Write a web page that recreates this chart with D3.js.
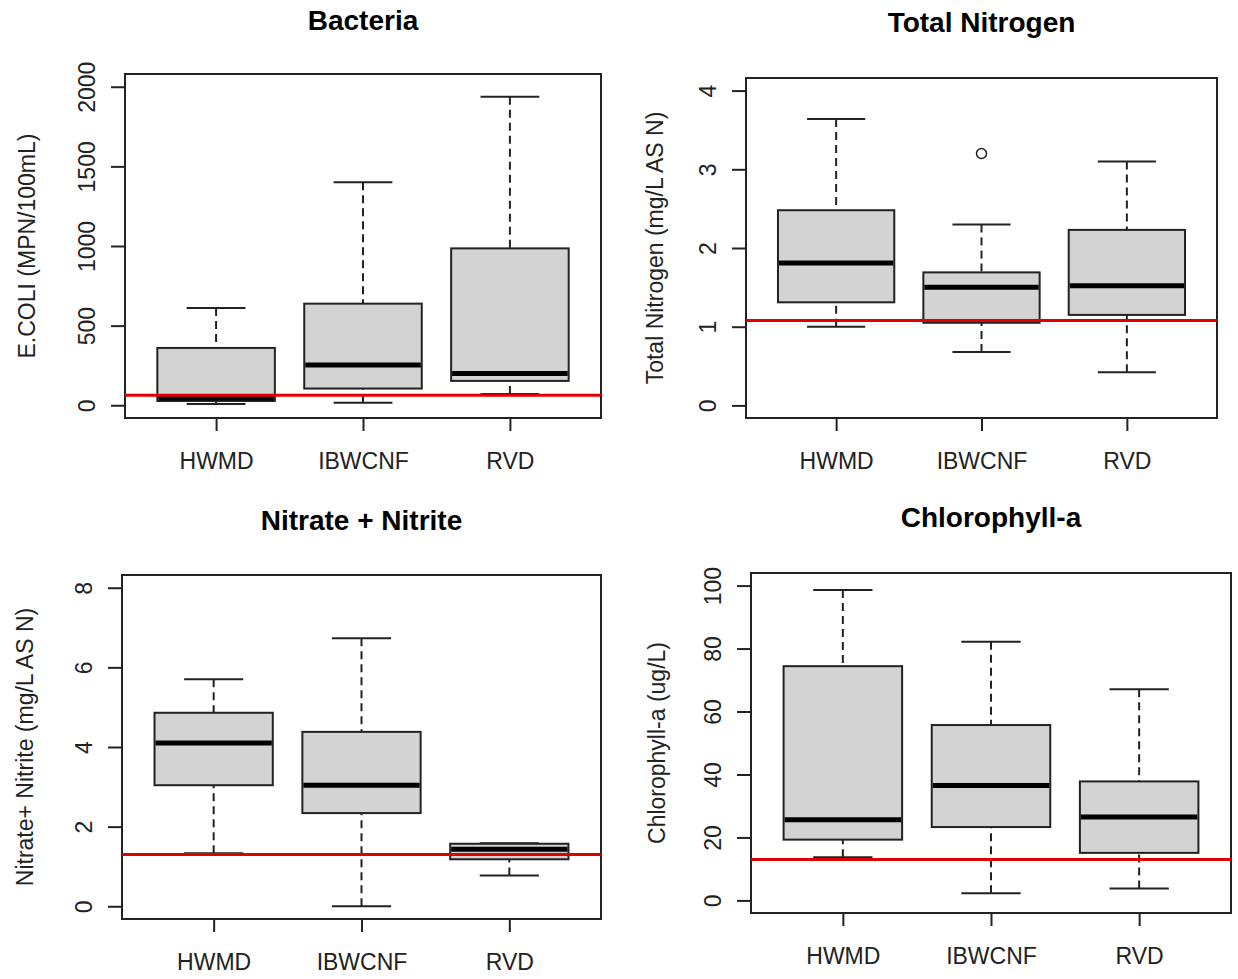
<!DOCTYPE html>
<html>
<head>
<meta charset="utf-8">
<script src="https://cdn.jsdelivr.net/npm/d3@7"></script>
<style>
  body { margin: 0; background: #fff; }
  svg text { font-family: "Liberation Sans", Arial, sans-serif; fill: #222; }
</style>
</head>
<body>
<svg id="chart" width="1238" height="979"></svg>
<script>
// sites on the x axis (same for all four panels)
var sites = ["HWMD", "IBWCNF", "RVD"];

// panel titles and y axis labels
var titles = ["Bacteria", "Total Nitrogen", "Nitrate + Nitrite", "Chlorophyll-a"];
var yLabels = ["E.COLI (MPN/100mL)", "Total Nitrogen (mg/L AS N)", "Nitrate+ Nitrite (mg/L AS N)", "Chlorophyll-a (ug/L)"];

// y limits and tick values
var yLims = [[0, 2000], [0, 4], [0, 8], [0, 100]];
var yTicks = [
  [0, 500, 1000, 1500, 2000],
  [0, 1, 2, 3, 4],
  [0, 2, 4, 6, 8],
  [0, 20, 40, 60, 80, 100]
];

// box stats per site: [lower whisker, Q1, median, Q3, upper whisker]
var bacteriaStats = [[8, 27, 45, 360, 610], [15, 105, 253, 638, 1400], [70, 153, 200, 985, 1937]];
var nitrogenStats = [[1.00, 1.31, 1.81, 2.48, 3.64], [0.68, 1.05, 1.50, 1.69, 2.30], [0.42, 1.15, 1.52, 2.23, 3.10]];
var nitrateStats  = [[1.33, 3.04, 4.10, 4.86, 5.70], [0.00, 2.34, 3.04, 4.38, 6.73], [0.77, 1.18, 1.43, 1.57, 1.58]];
var chlorophyllStats = [[13.7, 19.3, 25.6, 74.4, 98.6], [2.3, 23.3, 36.5, 55.7, 82.2], [3.8, 15.1, 26.5, 37.8, 67.1]];

// outliers per site
var bacteriaOut = [[], [], []];
var nitrogenOut = [[], [3.20], []];
var nitrateOut = [[], [], []];
var chlorophyllOut = [[], [], []];

// red reference line (criteria)
var thresholds = [63, 1.08, 1.30, 13.0];

var allStats = [bacteriaStats, nitrogenStats, nitrateStats, chlorophyllStats];
var allOut = [bacteriaOut, nitrogenOut, nitrateOut, chlorophyllOut];

// plot frames in page pixels
var frames = [
  {x0: 125, x1: 601, y0: 74, y1: 418, titleY: 30, ylabX: 35},
  {x0: 746, x1: 1217, y0: 78, y1: 418, titleY: 32, ylabX: 663},
  {x0: 122, x1: 601, y0: 575, y1: 919, titleY: 530, ylabX: 33},
  {x0: 751, x1: 1231, y0: 573, y1: 913, titleY: 527, ylabX: 665}
];

var svg = d3.select("#chart");

const drawPanel = (i) => {
  var f = frames[i];
  var stats = allStats[i];
  var lim = yLims[i];
  var pad = (lim[1] - lim[0]) * 0.04;

  // R style: x from 0.5 to n+0.5, both axes padded by 4%
  var xScale = d3.scaleLinear().domain([0.38, 3.62]).range([f.x0, f.x1]);
  var yScale = d3.scaleLinear().domain([lim[0] - pad, lim[1] + pad]).range([f.y1, f.y0]);
  var unit = xScale(1) - xScale(0);
  var boxW = 0.8 * unit;
  var capW = 0.4 * unit;

  var g = svg.append("g");

  // title
  g.append("text")
    .attr("x", (f.x0 + f.x1) / 2)
    .attr("y", f.titleY)
    .attr("text-anchor", "middle")
    .style("font-size", "28px")
    .style("font-weight", "bold")
    .style("fill", "#000")
    .text(titles[i]);

  // y axis label
  g.append("text")
    .attr("transform", "translate(" + f.ylabX + "," + ((f.y0 + f.y1) / 2) + ") rotate(-90)")
    .attr("text-anchor", "middle")
    .style("font-size", "23px")
    .text(yLabels[i]);

  // y axis
  var yAxis = g.append("g")
    .attr("transform", "translate(" + f.x0 + ",0)")
    .call(d3.axisLeft(yScale).tickValues(yTicks[i]).tickSize(14).tickFormat(d3.format("d")));
  yAxis.select(".domain").remove();
  yAxis.selectAll("line").attr("stroke", "#222").attr("stroke-width", 2);
  yAxis.selectAll("text")
    .attr("transform", "rotate(-90)")
    .attr("x", 0).attr("y", -30).attr("dy", 0)
    .attr("text-anchor", "middle")
    .style("font-size", "23px")
    .style("font-family", "Liberation Sans, Arial, sans-serif")
    .attr("fill", "#222");

  // x axis
  var xAxis = g.append("g")
    .attr("transform", "translate(0," + f.y1 + ")")
    .call(d3.axisBottom(xScale).tickValues([1, 2, 3]).tickSize(13).tickFormat(d => sites[d - 1]));
  xAxis.select(".domain").remove();
  xAxis.selectAll("line").attr("stroke", "#222").attr("stroke-width", 2);
  xAxis.selectAll("text")
    .attr("y", 51).attr("dy", 0)
    .style("font-size", "23px")
    .style("font-family", "Liberation Sans, Arial, sans-serif")
    .attr("fill", "#222");

  var boxes = g.selectAll(".site")
    .data(stats)
    .join("g")
    .attr("class", "site");

  // dashed whiskers, cap to box
  boxes.selectAll(".whisker")
    .data((d, k) => [[k + 1, d[0], d[1]], [k + 1, d[4], d[3]]])
    .join("line")
    .attr("x1", d => xScale(d[0])).attr("x2", d => xScale(d[0]))
    .attr("y1", d => yScale(d[1])).attr("y2", d => yScale(d[2]))
    .attr("stroke", "#222").attr("stroke-width", 2)
    .attr("stroke-dasharray", "8,5");

  // whisker caps
  boxes.selectAll(".cap")
    .data((d, k) => [[k + 1, d[0]], [k + 1, d[4]]])
    .join("line")
    .attr("x1", d => xScale(d[0]) - capW / 2).attr("x2", d => xScale(d[0]) + capW / 2)
    .attr("y1", d => yScale(d[1])).attr("y2", d => yScale(d[1]))
    .attr("stroke", "#222").attr("stroke-width", 2);

  // boxes
  boxes.append("rect")
    .attr("x", (d, k) => xScale(k + 1) - boxW / 2)
    .attr("width", boxW)
    .attr("y", d => yScale(d[3]))
    .attr("height", d => yScale(d[1]) - yScale(d[3]))
    .attr("fill", "#d3d3d3")
    .attr("stroke", "#222").attr("stroke-width", 2);

  // medians
  boxes.append("line")
    .attr("x1", (d, k) => xScale(k + 1) - boxW / 2 + 1)
    .attr("x2", (d, k) => xScale(k + 1) + boxW / 2 - 1)
    .attr("y1", d => yScale(d[2])).attr("y2", d => yScale(d[2]))
    .attr("stroke", "#000").attr("stroke-width", 5);

  // outliers
  var pts = [];
  allOut[i].forEach((arr, k) => arr.forEach(v => pts.push({site: k + 1, v: v})));
  g.selectAll(".outlier")
    .data(pts)
    .join("circle")
    .attr("cx", d => xScale(d.site))
    .attr("cy", d => yScale(d.v))
    .attr("r", 5)
    .attr("fill", "none")
    .attr("stroke", "#222").attr("stroke-width", 1.5);

  // plot frame
  g.append("rect")
    .attr("x", f.x0).attr("y", f.y0)
    .attr("width", f.x1 - f.x0).attr("height", f.y1 - f.y0)
    .attr("fill", "none")
    .attr("stroke", "#222").attr("stroke-width", 2);

  // red criteria line
  g.append("line")
    .attr("x1", f.x0).attr("x2", f.x1)
    .attr("y1", yScale(thresholds[i])).attr("y2", yScale(thresholds[i]))
    .attr("stroke", "#e00000").attr("stroke-width", 3);
};

for (var i = 0; i < 4; i++) {
  drawPanel(i);
}
</script>
</body>
</html>
